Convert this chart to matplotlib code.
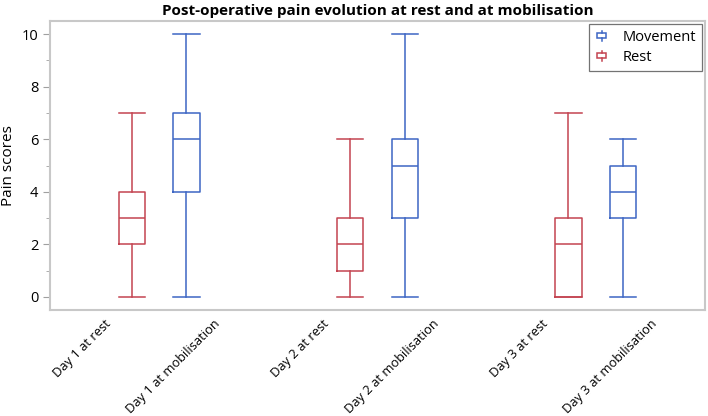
import matplotlib.pyplot as plt
import matplotlib.patches as mpatches
from matplotlib.legend_handler import HandlerBase
from matplotlib.lines import Line2D
from matplotlib.ticker import MultipleLocator

plt.rcParams['font.family'] = ['Open Sans', 'DejaVu Sans']

categories = ["Day 1 at rest", "Day 1 at mobilisation",
              "Day 2 at rest", "Day 2 at mobilisation",
              "Day 3 at rest", "Day 3 at mobilisation"]
groups = ["Rest", "Movement", "Rest", "Movement", "Rest", "Movement"]
mins = [0, 0, 0, 0, 0, 0]
q1s = [2, 4, 1, 3, 0, 3]
medians = [3, 6, 2, 5, 2, 4]
q3s = [4, 7, 3, 6, 3, 5]
maxs = [7, 10, 6, 10, 7, 6]

colors = {"Movement": "#3d66c4", "Rest": "#c34451"}
offsets = {"Movement": -0.25, "Rest": 0.25}


class BoxHandler(HandlerBase):
    def __init__(self, color):
        super().__init__()
        self.color = color

    def create_artists(self, legend, orig_handle, xdescent, ydescent,
                       width, height, fontsize, trans):
        cx = width * 0.35 - xdescent
        w = width * 0.5
        h = height * 0.5
        y0 = (height - h) / 2 - ydescent
        rect = mpatches.Rectangle((cx - w / 2, y0), w, h, fill=False,
                                  edgecolor=self.color, lw=1.1, transform=trans)
        l1 = Line2D([cx, cx], [-ydescent, y0], color=self.color, lw=1.1, transform=trans)
        l2 = Line2D([cx, cx], [y0 + h, height - ydescent], color=self.color, lw=1.1, transform=trans)
        return [rect, l1, l2]


fig = plt.figure(figsize=(7.08, 4.16), dpi=100)
ax = fig.add_axes([0.0706, 0.2548, 0.925, 0.6947])

for i, cat in enumerate(categories):
    g = groups[i]
    stats = [dict(med=medians[i], q1=q1s[i], q3=q3s[i],
                  whislo=mins[i], whishi=maxs[i], fliers=[])]
    c = colors[g]
    ax.bxp(stats, positions=[i + offsets[g]], widths=0.24, showfliers=False,
           boxprops=dict(color=c, lw=1.1),
           whiskerprops=dict(color=c, lw=1.1),
           capprops=dict(color=c, lw=1.1),
           medianprops=dict(color=c, lw=1.1),
           capwidths=0.24, manage_ticks=False)

ax.set_xlim(-0.5, 5.5)
ax.set_ylim(-0.5, 10.5)
ax.set_xticks(range(len(categories)))
ax.set_xticklabels(categories, rotation=45, ha='right', rotation_mode='anchor', fontsize=9.3)
ax.tick_params(axis='x', length=0, pad=5)
ax.yaxis.set_major_locator(MultipleLocator(2))
ax.yaxis.set_minor_locator(MultipleLocator(1))
ax.tick_params(axis='y', which='major', length=5, color='#a0a0a0', labelsize=10.5)
ax.tick_params(axis='y', which='minor', length=3, color='#a0a0a0')
for s in ax.spines.values():
    s.set_color('#c8c8c8')
    s.set_linewidth(1.5)

ax.set_ylabel("Pain scores", fontsize=11, labelpad=4)
ax.set_title("Post-operative pain evolution at rest and at mobilisation",
             fontsize=11, fontweight='bold', pad=4)

h_mov = mpatches.Patch(label="Movement")
h_rest = mpatches.Patch(label="Rest")
leg = ax.legend([h_mov, h_rest], ["Movement", "Rest"], loc='upper right',
                handler_map={h_mov: BoxHandler(colors["Movement"]),
                             h_rest: BoxHandler(colors["Rest"])},
                fancybox=False, edgecolor='#505050', fontsize=10.5,
                handlelength=1.3, handletextpad=0.6, borderpad=0.4,
                labelspacing=0.35, borderaxespad=0.2)
leg.get_frame().set_linewidth(0.9)

fig.savefig("out.png", dpi=100)
